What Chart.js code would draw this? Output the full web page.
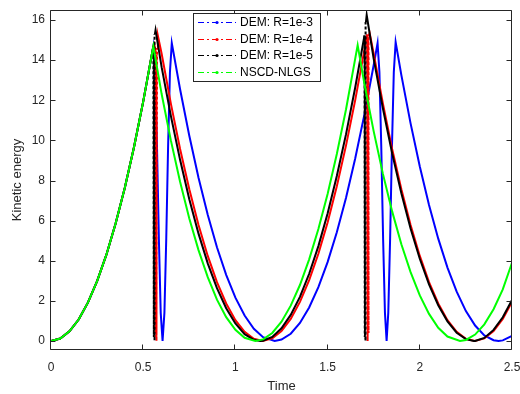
<!DOCTYPE html>
<html><head><meta charset="utf-8">
<script src="https://cdn.jsdelivr.net/npm/chart.js@4.4.0/dist/chart.umd.min.js"></script>
<style>html,body{margin:0;padding:0;background:#fff;}canvas{display:block;}</style>
</head><body>
<canvas id="c" width="520" height="394"></canvas>
<script>
const xTicks = [0, 0.5, 1, 1.5, 2, 2.5];
const yTicks = [0, 2, 4, 6, 8, 10, 12, 14, 16];
const seriesLabels = ['DEM: R=1e-3', 'DEM: R=1e-4', 'DEM: R=1e-5', 'NSCD-NLGS'];
const seriesColors = ['#0000ff', '#ff0000', '#000000', '#00ff00'];

const tBlue = [0,0.05,0.1,0.15,0.2,0.25,0.3,0.35,0.4,0.45,0.5,0.555,0.565,0.575,0.585,0.595,0.605,0.615,0.625,0.635,0.645,0.655,0.7,0.75,0.8,0.85,0.9,0.95,1.0,1.05,1.1,1.15,1.213,1.25,1.3,1.35,1.4,1.45,1.5,1.55,1.6,1.65,1.7,1.75,1.771,1.781,1.791,1.801,1.811,1.82,1.829,1.839,1.849,1.859,1.869,1.9,1.95,2.0,2.05,2.1,2.15,2.2,2.25,2.3,2.35,2.4,2.427,2.45,2.5];
const keBlue = [0,0.12,0.48,1.07,1.91,2.98,4.29,5.84,7.63,9.66,11.93,14.69,13.3,9.6,5.1,1.4,0,1.4,5.1,9.7,13.4,14.85,12.55,10.23,8.14,6.29,4.67,3.30,2.16,1.27,0.61,0.19,0,0.07,0.36,0.90,1.67,2.68,3.93,5.42,7.14,9.11,11.31,13.76,14.85,13.4,9.7,5.1,1.4,0,1.4,5.1,9.7,13.4,14.9,13.25,10.85,8.70,6.78,5.10,3.66,2.46,1.49,0.77,0.28,0.04,0,0.03,0.25];

const tRed = [0,0.05,0.1,0.15,0.2,0.25,0.3,0.35,0.4,0.45,0.5,0.555,0.56,0.566,0.567,0.568,0.569,0.57,0.571,0.572,0.573,0.575,0.58,0.6,0.65,0.7,0.75,0.8,0.85,0.9,0.95,1.0,1.05,1.1,1.148,1.2,1.25,1.3,1.35,1.4,1.45,1.5,1.55,1.6,1.65,1.7,1.714,1.715,1.716,1.717,1.718,1.719,1.72,1.721,1.723,1.728,1.75,1.8,1.85,1.9,1.95,2.0,2.05,2.1,2.15,2.2,2.25,2.298,2.35,2.4,2.45,2.5];
const keRed = [0,0.12,0.48,1.07,1.91,2.98,4.29,5.84,7.63,9.66,11.93,14.69,14.8,14.5,0.2,13.8,0.4,14.2,0,14.4,0.3,14.6,15.2,14.32,11.83,9.57,7.56,5.78,4.24,2.93,1.87,1.04,0.46,0.11,0,0.13,0.50,1.10,1.95,3.03,4.35,5.91,7.71,9.75,12.02,14.53,15.28,0.2,14.9,0.3,15.0,0,15.1,0.4,15.2,15.35,14.32,11.83,9.57,7.56,5.78,4.24,2.93,1.87,1.04,0.46,0.11,0,0.13,0.50,1.10,1.95];

const tBlack = [0,0.05,0.1,0.15,0.2,0.25,0.3,0.35,0.4,0.45,0.5,0.555,0.557,0.5575,0.558,0.5585,0.559,0.5595,0.5605,0.561,0.562,0.5625,0.5635,0.567,0.6,0.65,0.7,0.75,0.8,0.85,0.9,0.95,1.0,1.05,1.1,1.135,1.15,1.2,1.25,1.3,1.35,1.4,1.45,1.5,1.55,1.6,1.65,1.7,1.701,1.702,1.703,1.704,1.705,1.706,1.707,1.708,1.712,1.75,1.8,1.85,1.9,1.95,2.0,2.05,2.1,2.15,2.2,2.25,2.293,2.3,2.35,2.4,2.45,2.5];
const keBlack = [0,0.12,0.48,1.07,1.91,2.98,4.29,5.84,7.63,9.66,11.93,14.69,14.8,0.3,13.5,0.2,12,0.5,14,0,15.0,0.4,15.3,15.5,13.65,11.22,9.03,7.07,5.35,3.87,2.63,1.63,0.87,0.34,0.06,0,0.01,0.20,0.63,1.30,2.20,3.35,4.73,6.35,8.22,10.31,12.65,15.23,0.2,14.8,0.3,15.4,0,15.6,0.4,15.9,16.25,14.06,11.59,9.36,7.37,5.61,4.10,2.82,1.78,0.98,0.41,0.09,0,0.002,0.15,0.55,1.18,2.04];

const tNSCD = [0,0.05,0.1,0.15,0.2,0.25,0.3,0.35,0.4,0.45,0.5,0.555,0.6,0.65,0.7,0.75,0.8,0.85,0.9,0.95,1.0,1.05,1.108,1.15,1.2,1.25,1.3,1.35,1.4,1.45,1.5,1.55,1.6,1.663,1.7,1.75,1.8,1.85,1.9,1.95,2.0,2.05,2.1,2.15,2.218,2.25,2.3,2.35,2.4,2.45,2.5];
const keNSCD = [0,0.12,0.48,1.07,1.91,2.98,4.29,5.84,7.63,9.66,11.93,14.69,12.31,10.0,7.94,6.11,4.53,3.18,2.06,1.19,0.56,0.16,0,0.08,0.40,0.96,1.76,2.79,4.07,5.58,7.33,9.32,11.55,14.75,12.8,10.45,8.33,6.46,4.82,3.43,2.27,1.35,0.66,0.22,0,0.05,0.32,0.83,1.58,2.57,3.9];

const FONT = '"Liberation Sans", Arial, sans-serif';
const AXC = '#262626';
const pts = (t, k) => t.map((x, i) => ({x: x, y: k[i]}));
const spikeDash = {borderDash: c => (Math.abs(c.p1.x - c.p0.x) < 0.6 ? [3, 2] : undefined)};

const axesBox = {
  id: 'axesBox',
  afterDatasetsDraw(chart) {
    const {ctx, chartArea: a, scales: {x, y}} = chart;
    ctx.save();
    ctx.strokeStyle = AXC; ctx.lineWidth = 1;
    const L = Math.round(a.left) - 0.5, R = Math.round(a.right) - 0.5;
    const T = Math.round(a.top) + 0.5, B = Math.round(a.bottom) - 0.5;
    ctx.beginPath();
    ctx.moveTo(L, T); ctx.lineTo(R, T); ctx.lineTo(R, B); ctx.lineTo(L, B); ctx.closePath();
    xTicks.forEach(v => {
      const px = Math.round(x.getPixelForValue(v)) - 0.5;
      ctx.moveTo(px, B); ctx.lineTo(px, B - 5);
      ctx.moveTo(px, T); ctx.lineTo(px, T + 5);
    });
    yTicks.forEach(v => {
      const py = Math.round(y.getPixelForValue(v)) + 0.5;
      ctx.moveTo(L, py); ctx.lineTo(L + 5, py);
      ctx.moveTo(R, py); ctx.lineTo(R - 5, py);
    });
    ctx.stroke();
    ctx.restore();
  }
};

const legendBox = {
  id: 'legendBox',
  afterDraw(chart) {
    const ctx = chart.ctx;
    ctx.save();
    const bx = 193.5, by = 13.5, bw = 127, bh = 68;
    ctx.fillStyle = '#fff'; ctx.fillRect(bx, by, bw, bh);
    ctx.strokeStyle = AXC; ctx.lineWidth = 1; ctx.strokeRect(bx, by, bw, bh);
    ctx.font = '12px ' + FONT; ctx.textBaseline = 'middle'; ctx.textAlign = 'left';
    seriesLabels.forEach((lab, i) => {
      const yy = Math.round(22 + i * 16.7) + 0.5;
      ctx.strokeStyle = seriesColors[i];
      ctx.setLineDash([6, 3, 2, 3]);
      ctx.beginPath(); ctx.moveTo(198, yy); ctx.lineTo(236, yy); ctx.stroke();
      ctx.setLineDash([]);
      ctx.fillStyle = seriesColors[i];
      ctx.beginPath(); ctx.arc(217, yy, 1.6, 0, 2 * Math.PI); ctx.fill();
      ctx.fillStyle = '#000';
      ctx.fillText(lab, 240, yy + 0.5);
    });
    ctx.restore();
  }
};

const datasets = [
  {label: seriesLabels[0], data: pts(tBlue, keBlue), borderColor: seriesColors[0], order: 3},
  {label: seriesLabels[1], data: pts(tRed, keRed), borderColor: seriesColors[1], order: 2, segment: spikeDash},
  {label: seriesLabels[2], data: pts(tBlack, keBlack), borderColor: seriesColors[2], order: 1, segment: spikeDash},
  {label: seriesLabels[3], data: pts(tNSCD, keNSCD), borderColor: seriesColors[3], order: 0}
].map(d => Object.assign({borderWidth: 2, pointRadius: 0, tension: 0, fill: false}, d));

new Chart(document.getElementById('c'), {
  type: 'line',
  data: {datasets: datasets},
  plugins: [axesBox, legendBox],
  options: {
    responsive: false,
    animation: false,
    devicePixelRatio: 1,
    layout: {padding: {top: 10, right: 8, left: 0, bottom: 0}},
    plugins: {legend: {display: false}, tooltip: {enabled: false}},
    scales: {
      x: {
        type: 'linear', min: 0, max: 2.5,
        afterBuildTicks: s => { s.ticks = xTicks.map(v => ({value: v})); },
        afterFit: s => { s.height = 44; s.paddingLeft = 0; s.paddingRight = 0; },
        grid: {display: false, drawTicks: false},
        border: {display: false},
        ticks: {padding: 10, color: AXC, font: {family: FONT, size: 12}, maxRotation: 0, autoSkip: false, callback: v => String(v)},
        title: {display: true, text: 'Time', color: AXC, font: {family: FONT, size: 13}, padding: {top: 3, bottom: 0}}
      },
      y: {
        type: 'linear', min: -0.45, max: 16.5,
        afterBuildTicks: s => { s.ticks = yTicks.map(v => ({value: v})); },
        afterFit: s => { s.width = 51; s.paddingTop = 0; s.paddingBottom = 0; },
        grid: {display: false, drawTicks: false},
        border: {display: false},
        ticks: {padding: 6, color: AXC, font: {family: FONT, size: 12}, autoSkip: false, callback: v => String(v)},
        title: {display: true, text: 'Kinetic energy', color: AXC, font: {family: FONT, size: 13}, padding: {top: 10, bottom: 0}}
      }
    }
  }
});
</script>
</body></html>
